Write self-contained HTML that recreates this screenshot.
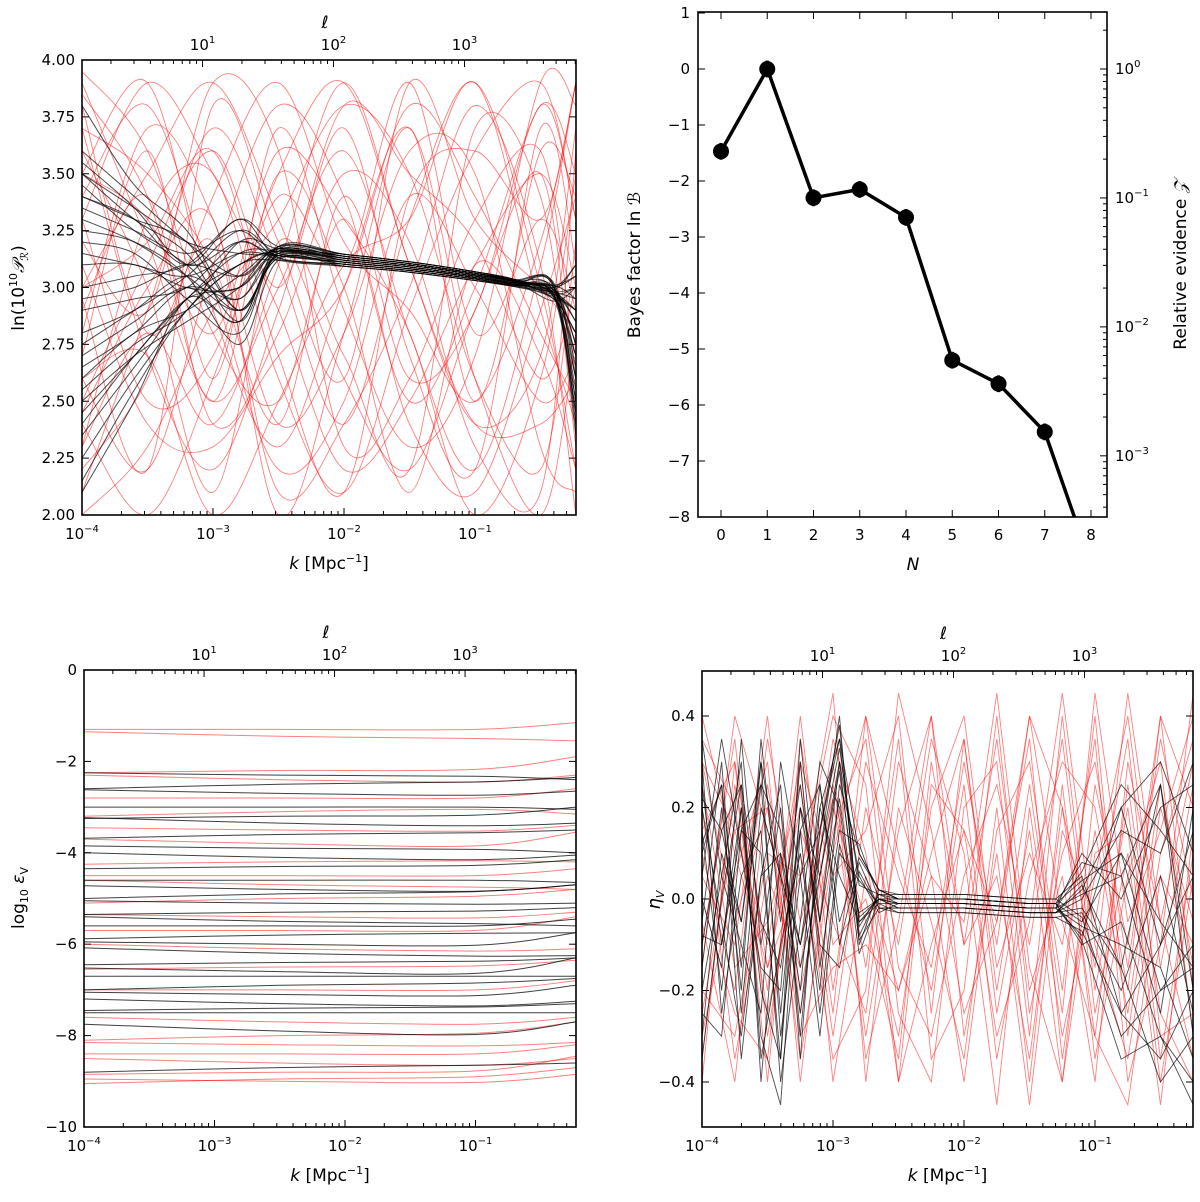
<!DOCTYPE html>
<html><head><meta charset="utf-8"><style>
html,body{margin:0;padding:0;background:#fff}
svg text{font-family:"DejaVu Sans","Liberation Sans",sans-serif;fill:#000}
</style></head><body>
<svg id="fig" width="1200" height="1197" viewBox="0 0 1200 1197" xmlns="http://www.w3.org/2000/svg">
<defs>
<clipPath id="cTL"><rect x="82" y="60" width="494" height="455"/></clipPath>
<clipPath id="cTR"><rect x="698" y="12" width="409" height="505"/></clipPath>
<clipPath id="cBL"><rect x="84" y="670" width="492" height="457"/></clipPath>
<clipPath id="cBR"><rect x="702" y="671" width="491" height="456"/></clipPath>
</defs>
</svg>
<script>
// ---------- DATA ----------
const tlRedKnots = [-4,-3.5,-3,-2.5,-2,-1.5,-1,-0.5,-0.23];
const tlRed = [
[3.9,3.2,2.5,3.0,3.6,2.8,2.2,3.1,3.9],[2.1,2.9,3.7,3.1,2.4,3.3,3.9,3.0,2.2],
[3.5,3.9,2.9,2.3,3.0,3.7,2.6,2.0,2.8],[2.6,2.2,3.1,3.8,3.4,2.5,3.0,3.8,3.5],
[3.0,3.5,3.9,3.3,2.6,2.2,2.9,3.5,2.4],[3.7,2.7,2.2,2.9,3.8,3.5,3.2,2.6,3.0],
[2.3,3.3,3.5,2.6,2.1,2.9,3.6,3.9,3.3],[3.3,2.5,2.7,3.5,3.9,3.1,2.4,2.7,3.7],
[2.8,3.7,3.3,2.4,2.8,3.6,3.5,2.3,2.1],[3.95,3.6,2.8,2.5,3.3,2.4,2.1,2.9,3.4],
[2.4,2.0,2.6,3.4,3.1,3.9,2.8,3.3,2.9],[3.2,2.9,3.9,3.6,2.3,2.6,3.3,3.6,2.6],
[2.9,3.4,2.4,2.8,3.5,3.2,2.3,2.1,3.6],[3.6,3.0,2.1,3.2,2.7,2.2,3.7,3.4,2.3],
[2.2,2.6,3.4,3.9,3.2,2.9,2.5,3.2,3.9],[3.4,3.8,3.0,2.2,2.5,3.4,3.0,2.5,2.7],
[2.5,3.1,3.6,3.0,3.7,2.7,2.2,3.7,3.1],[3.1,2.4,2.3,2.7,3.0,3.8,3.4,2.8,2.5],
[2.7,3.6,2.6,3.7,2.9,2.3,2.7,3.9,3.8],[3.8,2.8,3.2,2.1,2.4,3.0,3.8,3.1,2.0],
[2.0,2.3,2.9,3.3,3.8,3.5,2.6,2.2,3.2],[3.3,3.9,3.5,2.9,2.2,2.5,3.1,3.5,3.0],
[2.6,2.7,2.0,2.5,3.1,3.3,3.9,2.9,2.4],[3.5,3.3,2.8,3.6,3.3,2.8,2.0,2.6,3.5],
[2.95,2.2,3.8,3.2,2.6,3.9,3.3,3.0,2.8],[3.7,3.5,3.1,2.4,3.4,2.6,2.9,3.8,3.3],
[2.3,2.8,2.4,3.1,3.9,3.1,2.4,2.4,2.6],[3.0,3.2,3.6,2.7,2.1,3.4,3.6,3.3,3.9],
[3.85,3.4,2.5,3.5,3.0,2.1,3.1,2.7,2.2],[2.45,3.0,3.3,2.0,2.8,3.7,2.5,3.6,3.4]];
const tlBlkKnots = [-4,-3.6,-3.2,-2.8,-2.5,-2,-1.5,-1,-0.7,-0.4,-0.23];
const tlTrend = [3.15,3.12,3.09,3.05,3.02];
const blkMidOff=[0.02,-0.01,0.03,-0.02,0.0,0.01,-0.03,0.02,-0.01,0.03,-0.02,0.01,0.0,-0.03,0.02,-0.01,0.01,-0.02,0.03,0.0,-0.01,0.02,-0.03,0.01,0.0,0.02,-0.02,0.03,-0.01,0.01];
const blkStart=[2.1,3.55,2.5,3.4,2.8,3.2,2.25,3.6,2.65,3.0,3.3,2.4,3.5,2.9,2.6,3.45,2.15,3.35,2.75,3.1,3.5,2.55,3.25,2.35,3.8,2.95,3.4,2.7,3.15,2.45];
const blkA=[2.5,3.35,2.7,3.3,2.9,3.15,2.6,3.4,2.8,3.05,3.2,2.7,3.3,2.95,2.8,3.25,2.55,3.25,2.9,3.1,3.35,2.75,3.2,2.65,3.45,3.0,3.3,2.85,3.1,2.7];
const blkB=[2.95,3.1,2.85,3.2,3.05,2.95,2.9,3.2,3.0,3.1,3.05,2.95,3.15,3.0,2.9,3.1,2.9,3.15,3.05,3.0,3.2,2.9,3.05,2.95,3.25,3.1,3.1,3.0,3.05,2.95];
const blkC=[2.85,3.2,3.0,2.9,3.25,2.8,3.1,3.05,2.95,3.3,2.9,3.15,2.85,3.2,3.05,2.9,3.1,3.25,2.95,3.0,3.15,3.2,2.75,3.1,2.9,3.05,3.3,2.85,3.15,3.0];
const blkNear=[2.98,3.0,2.96,3.01,2.97,2.99,2.95,3.02,2.98,3.0,2.96,2.99,3.01,2.97,2.98,3.0,2.94,3.01,2.97,2.99,3.0,2.96,2.98,2.95,3.01,2.97,3.0,2.98,2.96,2.99];
const blkEnd=[2.45,3.05,2.7,2.95,2.55,3.1,2.8,2.6,3.0,2.4,2.9,2.75,3.05,2.5,2.85,2.65,3.0,2.35,2.9,2.7,3.1,2.6,2.95,2.8,2.5,3.0,2.75,2.9,2.45,2.85];

const bfN = [0,1,2,3,4,5,6,7,8];
const bfVal = [-1.47,0,-2.3,-2.15,-2.65,-5.2,-5.62,-6.48,-8.85];
const bfErr = [0.15,0.15,0.15,0.15,0.15,0.15,0.15,0.15,0.15];

const blKnots = [-4,-2.5,-1,-0.23];
const blBlkLevel=[-2.3,-2.5,-2.7,-3.0,-3.2,-3.35,-3.6,-3.9,-4.1,-4.3,-4.6,-4.8,-4.9,-5.1,-5.3,-5.5,-5.6,-5.8,-6.0,-6.2,-6.4,-6.6,-6.7,-6.9,-7.1,-7.3,-7.4,-7.5,-7.9,-8.7];
const blBlkD1=[0.05,-0.1,0.08,0.0,-0.05,0.12,-0.08,0.05,0.1,-0.05,0.0,0.08,-0.1,0.05,-0.05,0.1,0.0,-0.08,0.05,0.12,-0.05,0.08,0.0,-0.1,0.05,0.1,-0.05,0.0,0.15,-0.1];
const blBlkD2=[-0.1,0.15,0.05,-0.05,0.2,0.0,0.1,-0.1,0.05,0.15,-0.05,0.1,0.2,0.0,0.1,-0.1,0.15,0.05,0.25,-0.05,0.1,0.3,0.0,0.15,0.2,0.05,0.1,0.0,0.2,0.1];
const blRedLevel=[-1.3,-1.45,-2.2,-2.4,-2.8,-3.1,-3.5,-3.8,-4.2,-4.5,-4.7,-5.0,-5.4,-5.7,-6.1,-6.5,-7.0,-7.7,-8.0,-8.2,-8.4,-8.6,-8.8,-9.0,-8.95];
const blRedD1=[0.0,0.1,-0.05,0.1,0.0,-0.1,0.05,0.1,-0.05,0.0,0.1,-0.1,0.05,0.0,0.1,-0.05,0.0,0.1,-0.1,0.05,0.0,0.1,-0.05,0.05,-0.1];
const blRedD2=[0.15,-0.1,0.3,0.1,0.2,-0.05,0.1,0.25,0.0,0.15,-0.1,0.2,0.1,0.3,0.0,0.15,0.2,0.1,0.3,0.05,0.2,0.1,0.35,0.15,0.25];

const brRedKnots=[-4,-3.75,-3.5,-3.25,-3,-2.75,-2.5,-2.25,-2,-1.75,-1.5,-1.25,-1,-0.75,-0.5,-0.25];
const brRed=[
[10,-20,35,-5,22,-30,15,40,-10,5,-35,20,-15,45,-5,30],[-25,15,-10,30,-40,5,-20,10,35,-25,15,-40,25,-10,40,-20],
[30,-5,20,-35,10,40,-15,-30,5,25,-10,35,-25,10,-45,15],[-10,35,-30,15,-5,-25,30,5,-40,15,30,-20,40,-30,20,-5],
[20,-35,5,-15,35,10,-40,25,15,-30,-5,45,-10,-35,10,35],[-35,25,-20,40,-20,30,5,-15,30,-10,40,-5,-30,25,-25,-40],
[5,-10,40,-25,25,-15,35,-35,-20,40,-25,10,30,-15,35,0],[40,10,-15,20,-30,20,-10,35,10,-45,20,-30,5,40,-15,25],
[-20,-30,10,5,45,-40,20,-5,-35,20,-40,25,-35,5,30,-30],[15,30,-40,35,-10,0,-30,20,40,-15,10,-10,35,-40,-10,45],
[-5,-40,25,-20,15,35,-25,-40,20,30,-30,40,-20,20,-35,10],[35,20,-25,10,-35,-20,45,15,-25,-5,35,-35,15,-25,25,-15],
[-30,5,30,-40,20,-5,-35,30,-10,35,-20,5,-40,30,-5,-35],[25,-15,-5,25,-25,40,10,-20,25,-35,5,30,20,-20,40,20],
[-15,40,15,-10,30,-35,-5,40,-30,10,-45,15,-5,35,-30,-25],[0,-25,-35,30,5,15,40,-25,35,-20,25,-25,45,-5,15,40],
[30,15,20,-30,-15,-10,-20,5,-5,45,-15,-40,10,15,-40,5],[-40,30,-15,5,40,25,-40,-10,15,-5,40,20,-30,-45,5,-10]];
const brBlkKnots=[-4,-3.85,-3.7,-3.55,-3.4,-3.25,-3.1,-2.95,-2.8,-2.65,-2.5,-2,-1.5,-1.3,-1.1,-0.8,-0.5,-0.25];
const brBlkTrend=[-1,-1,-2,-2];
const brMidOff=[1,-1,0,2,-1,1,0,-2,1,0,-1,2,0,-1,1,-2,0,1];
const brBlkLeft=[
[10,25,-15,30,-30,5,15,35,10,2],[-20,5,30,-40,10,-10,20,5,-5,0],[25,-10,15,10,-35,20,-5,30,5,-3],
[-5,30,-25,20,5,-25,10,40,-10,2],[15,-20,20,-30,-45,15,25,-10,8,-2],[-30,10,-5,25,15,-15,5,30,-8,1],
[5,35,10,-15,-20,30,-15,15,12,0],[20,-5,-30,5,25,-35,20,35,-5,-1],[-10,15,25,-35,-10,10,-20,25,10,2],
[30,-25,5,15,-40,-5,30,20,-12,0],[-15,20,-20,35,-5,25,-10,-15,6,-2],[0,-15,35,-10,20,-30,15,38,-6,1],
[35,5,-10,-25,30,5,-30,10,4,-1],[-25,-30,15,25,-25,20,5,28,-4,0],[12,25,-35,5,10,-20,25,-5,9,2],
[-8,-10,20,-20,-35,35,-5,22,-9,-2],[22,15,-5,30,5,-10,10,33,3,1],[-35,0,25,-5,-15,15,-25,12,-3,0]];
const brBlkRight=[[-5,10,-20,-15],[3,-15,25,-30],[-8,20,-10,15],[5,-25,-35,-20],[0,15,10,30],[-10,-5,-30,-40],
[6,25,15,5],[-3,-20,5,-25],[8,5,-25,20],[-6,-10,-15,-35],[2,20,30,10],[-4,-30,-20,-10],[10,0,20,25],
[-2,-15,-40,-30],[4,10,-5,-15],[-7,-25,-10,5],[1,5,25,-20],[-9,-35,-30,-45]];

// ---------- DRAW ----------
const NS="http://www.w3.org/2000/svg";
const svg=document.getElementById('fig');
function el(tag,attrs,parent){const e=document.createElementNS(NS,tag);for(const k in attrs)e.setAttribute(k,attrs[k]);(parent||svg).appendChild(e);return e;}
function smooth(pts){
  let d=`M${pts[0][0].toFixed(1)},${pts[0][1].toFixed(1)}`;
  for(let i=0;i<pts.length-1;i++){
    const p0=pts[Math.max(i-1,0)],p1=pts[i],p2=pts[i+1],p3=pts[Math.min(i+2,pts.length-1)];
    const c1=[p1[0]+(p2[0]-p0[0])/6,p1[1]+(p2[1]-p0[1])/6],c2=[p2[0]-(p3[0]-p1[0])/6,p2[1]-(p3[1]-p1[1])/6];
    d+=` C${c1[0].toFixed(1)},${c1[1].toFixed(1)} ${c2[0].toFixed(1)},${c2[1].toFixed(1)} ${p2[0].toFixed(1)},${p2[1].toFixed(1)}`;
  }return d;}
function poly(pts){return 'M'+pts.map(p=>p[0].toFixed(1)+','+p[1].toFixed(1)).join(' L');}
function txt(x,y,s,opt,name){const t=el('text',Object.assign({x:x,y:y,'font-size':15},opt||{}));t.innerHTML=s;
  
  return t;}
function pow10(e){return `10<tspan dy="-7" font-size="10">${e}</tspan>`;}

function logXPanel(P){
  const g=el('g',{});
  
  
  const X=lk=>P.kx+(lk+4)*P.dec;
  for(let d=-4;d<=0;d++){for(let m=1;m<10;m++){const lk=d+Math.log10(m);const x=X(lk);if(x<P.x0-0.5||x>P.x1+0.5)continue;
    const L=m===1?7:4;
    el('line',{x1:x,x2:x,y1:P.y1,y2:P.y1-L,stroke:'#000','stroke-width':1},g);
    if(m===1){txt(x,P.y1+24,pow10('−'+(-d)),{'text-anchor':'middle'},'x-tick-label');}
  }}
  for(let d=0;d<=4;d++){for(let m=1;m<10;m++){const le=d+Math.log10(m);const x=X(le-4.08);if(x<P.x0||x>P.x1)continue;
    const L=m===1?7:4;
    el('line',{x1:x,x2:x,y1:P.y0,y2:P.y0+L,stroke:'#000','stroke-width':1},g);
    if(m===1&&d>=1&&d<=3)txt(x,P.y0-10,pow10(d),{'text-anchor':'middle'},'ell-tick-label');
  }}
  txt((P.x0+P.x1)/2-4,P.y0-32,'ℓ',{'text-anchor':'middle','font-style':'italic','font-size':17},'ell-axis-title');
  const xl=txt((P.x0+P.x1)/2,P.y1+54,'<tspan font-style="italic">k</tspan>   [Mpc<tspan dy="-7" font-size="11">−1</tspan><tspan dy="7">]</tspan>',{'text-anchor':'middle','font-size':17},'x-axis-title');
  xl.setAttribute('xml:space','preserve');
  P.yt.forEach(v=>{const y=P.Y(v);
    el('line',{x1:P.x0,x2:P.x0+7,y1:y,y2:y,stroke:'#000'},g);
    el('line',{x1:P.x1,x2:P.x1-7,y1:y,y2:y,stroke:'#000'},g);
    txt(P.x0-7,y+5,P.fmt(v),{'text-anchor':'end'},'y-tick-label');});
  return X;
}
function frame(x0,y0,x1,y1,name){const r=el('rect',{x:x0,y:y0,width:x1-x0,height:y1-y0,fill:'none',stroke:'#000','stroke-width':1.6});
  
  }

// ===== Top-left =====
{
const YTL=v=>515-(v-2)*227.5;
const X=logXPanel({name:'pr-panel',x0:82,x1:576,y0:60,y1:515,kx:82,dec:131,Y:YTL,yt:[2,2.25,2.5,2.75,3,3.25,3.5,3.75,4],fmt:v=>v.toFixed(2)});
const g=el('g',{'clip-path':'url(#cTL)'});
tlRed.forEach(r=>{const p=el('path',{d:smooth(r.map((v,i)=>[X(tlRedKnots[i]),YTL(v)])),fill:'none',stroke:'#f00','stroke-opacity':0.5,'stroke-width':0.9},g);
  
  });
blkStart.forEach((s,i)=>{const o=blkMidOff[i];
  const vals=[s,blkA[i],blkB[i],blkC[i]].concat(tlTrend.map((t,j)=>t+o*(1-j*0.12))).concat([blkNear[i],blkEnd[i]]);
  const p=el('path',{d:smooth(vals.map((v,j)=>[X(tlBlkKnots[j]),YTL(v)])),fill:'none',stroke:'#000','stroke-opacity':0.7,'stroke-width':1},g);
  
  });
frame(82,60,576,515,'pr-plot-frame');
txt(0,0,'ln(10<tspan dy="-7" font-size="11">10</tspan><tspan dy="7" font-style="italic">𝒫</tspan><tspan dy="4" font-size="11">ℛ</tspan><tspan dy="-4">)</tspan>',{'text-anchor':'middle','font-size':17,transform:'translate(24,288) rotate(-90)'},'y-axis-title');
}

// ===== Top-right =====
{
const X=n=>721+n*46.25, Y=v=>69-v*56;
const g=el('g',{});
for(let n=0;n<=8;n++){const x=X(n);el('line',{x1:x,x2:x,y1:517,y2:510,stroke:'#000'},g);el('line',{x1:x,x2:x,y1:12,y2:19,stroke:'#000'},g);txt(x,540,String(n),{'text-anchor':'middle'},'x-tick-label');}
for(let v=1;v>=-8;v--){const y=Y(v);el('line',{x1:698,x2:705,y1:y,y2:y,stroke:'#000'},g);txt(690,y+5,v<0?'−'+(-v):String(v),{'text-anchor':'end'},'y-tick-label');}
for(let d=0;d>=-4;d--){for(let m=1;m<10;m++){const lnz=(d+Math.log10(m))*Math.LN10;const y=Y(lnz);if(y<12||y>517)continue;
  el('line',{x1:1107,x2:1107-(m===1?7:4),y1:y,y2:y,stroke:'#000'},g);
  if(m===1)txt(1115,y+5,pow10(d===0?'0':'−'+(-d)),{},'right-tick-label');}}
const gc=el('g',{'clip-path':'url(#cTR)'});
const ln=el('path',{d:poly(bfN.map((n,i)=>[X(n),Y(bfVal[i])])),fill:'none',stroke:'#000','stroke-width':3.5},gc);


bfN.forEach((n,i)=>{
  const e=el('line',{x1:X(n),x2:X(n),y1:Y(bfVal[i]+bfErr[i]),y2:Y(bfVal[i]-bfErr[i]),stroke:'#000','stroke-width':3},gc);
  
  
  const c=el('circle',{cx:X(n),cy:Y(bfVal[i]),r:8,fill:'#000'},gc);
  
  });
frame(698,12,1107,517,'bayes-plot-frame');
txt(913,570,'N',{'text-anchor':'middle','font-style':'italic','font-size':17},'x-axis-title');
txt(0,0,'Bayes factor ln <tspan font-style="italic">ℬ</tspan>',{'text-anchor':'middle','font-size':17,transform:'translate(640,265) rotate(-90)'},'y-axis-title');
txt(0,0,'Relative evidence <tspan font-style="italic">𝒵</tspan>',{'text-anchor':'middle','font-size':17,transform:'translate(1186,265) rotate(-90)'},'right-axis-title');
}

// ===== Bottom-left =====
{
const Y=v=>670-v*45.7;
const X=logXPanel({name:'eps-panel',x0:84,x1:576,y0:670,y1:1127,kx:84,dec:130.5,Y:Y,yt:[0,-2,-4,-6,-8,-10],fmt:v=>v===0?'0':'−'+(-v)});
const g=el('g',{'clip-path':'url(#cBL)'});
blRedLevel.forEach((l,i)=>{const vals=[l+blRedD1[i],l,l-blRedD1[i]*0.5,l+blRedD2[i]];
  const p=el('path',{d:smooth(vals.map((v,j)=>[X(blKnots[j]),Y(v)])),fill:'none',stroke:'#f00','stroke-opacity':0.5,'stroke-width':1},g);
  
  });
blBlkLevel.forEach((l,i)=>{const vals=[l+blBlkD1[i],l,l-blBlkD1[i]*0.5,l+blBlkD2[i]];
  const p=el('path',{d:smooth(vals.map((v,j)=>[X(blKnots[j]),Y(v)])),fill:'none',stroke:'#000','stroke-opacity':0.75,'stroke-width':1},g);
  
  });
frame(84,670,576,1127,'eps-plot-frame');
txt(0,0,'log<tspan dy="4" font-size="11">10</tspan><tspan dy="-4" font-style="italic"> ε</tspan><tspan dy="4" font-size="11">V</tspan>',{'text-anchor':'middle','font-size':17,transform:'translate(24,898) rotate(-90)'},'y-axis-title');
}

// ===== Bottom-right =====
{
const Y=v=>899-v*457.5;
const X=logXPanel({name:'eta-panel',x0:702,x1:1193,y0:671,y1:1127,kx:702,dec:131,Y:Y,yt:[-0.4,-0.2,0,0.2,0.4],fmt:v=>(v<0?'−':'')+Math.abs(v).toFixed(1)});
const g=el('g',{'clip-path':'url(#cBR)'});
brRed.forEach(r=>{const p=el('path',{d:poly(r.map((v,i)=>[X(brRedKnots[i]),Y(v/100)])),fill:'none',stroke:'#f00','stroke-opacity':0.5,'stroke-width':0.9},g);
  
  });
brBlkLeft.forEach((l,i)=>{const vals=l.concat(brBlkTrend.map(t=>t+brMidOff[i])).concat(brBlkRight[i]);
  const p=el('path',{d:poly(vals.map((v,j)=>[X(brBlkKnots[j]),Y(v/100)])),fill:'none',stroke:'#000','stroke-opacity':0.7,'stroke-width':0.9},g);
  
  });
frame(702,671,1193,1127,'eta-plot-frame');
txt(0,0,'η<tspan dy="4" font-size="11">V</tspan>',{'text-anchor':'middle','font-size':18,'font-style':'italic',transform:'translate(660,900) rotate(-90)'},'y-axis-title');
}
</script>
</body></html>
